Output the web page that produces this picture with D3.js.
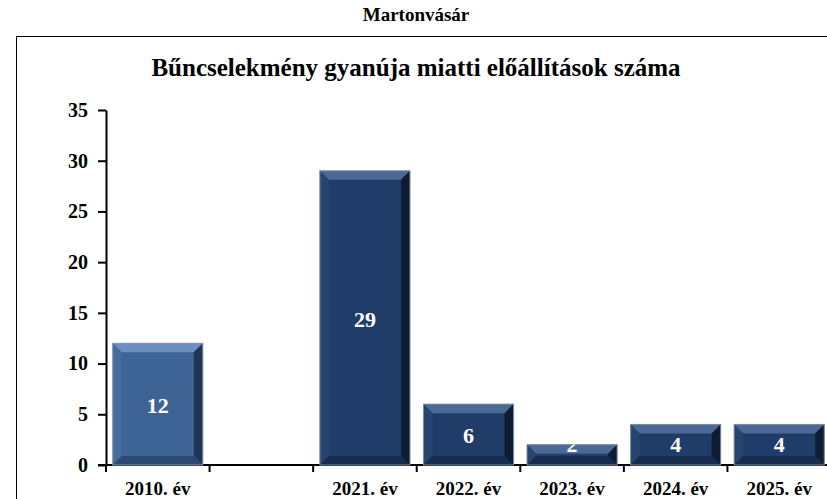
<!DOCTYPE html>
<html>
<head>
<meta charset="utf-8">
<script src="https://cdn.jsdelivr.net/npm/d3@7"></script>
<style>
  body { margin: 0; background: #fff; }
  svg { display: block; font-family: "Liberation Serif", "Times New Roman", serif; font-weight: bold; }
</style>
</head>
<body>
<script>
var PLACE = "Martonvásár";
var TITLE = "Bűncselekmény gyanúja miatti előállítások száma";
var CATEGORIES = ["2010. év", "", "2021. év", "2022. év", "2023. év", "2024. év", "2025. év"];
var VALUES = [12, null, 29, 6, 2, 4, 4];
var Y_TICKS = [0, 5, 10, 15, 20, 25, 30, 35];

var W = 827, H = 499;
var plot = { left: 106, right: 831, top: 110, bottom: 465 };

var svg = d3.select("body").append("svg").attr("width", W).attr("height", H);

// frame + titles
svg.append("rect")
  .attr("x", 16.5).attr("y", 36.5)
  .attr("width", 900).attr("height", 600)
  .attr("fill", "none").attr("stroke", "black").attr("stroke-width", 1);

svg.append("text")
  .attr("x", 416).attr("y", 21)
  .attr("text-anchor", "middle")
  .style("font-size", "19px")
  .text(PLACE);

svg.append("text")
  .attr("x", 416).attr("y", 76)
  .attr("text-anchor", "middle")
  .style("font-size", "25px")
  .text(TITLE);

var x = d3.scaleBand()
  .domain(CATEGORIES)
  .range([plot.left, plot.right])
  .paddingInner(0.13)
  .paddingOuter(0.065);

var y = d3.scaleLinear()
  .domain([0, 35])
  .range([plot.bottom, plot.top]);

// y axis
var yAxis = svg.append("g")
  .attr("transform", "translate(" + plot.left + ",0)")
  .call(d3.axisLeft(y).tickValues(Y_TICKS).tickSize(8).tickSizeOuter(0).tickPadding(10));
yAxis.attr("font-family", null).attr("font-size", null);
yAxis.select(".domain").attr("stroke-width", 2);
yAxis.selectAll(".tick line").attr("stroke-width", 2);
yAxis.selectAll("text")
  .style("font-size", "20px")
  .attr("fill", "black");

// x axis: line + ticks at category boundaries
var step = x.step();
var xg = svg.append("g");
xg.append("line")
  .attr("x1", plot.left - 8).attr("x2", W)
  .attr("y1", plot.bottom).attr("y2", plot.bottom)
  .attr("stroke", "black").attr("stroke-width", 2);
xg.selectAll("line.tk")
  .data(CATEGORIES)
  .enter().append("line")
  .attr("class", "tk")
  .attr("x1", (d, i) => plot.left + i * step)
  .attr("x2", (d, i) => plot.left + i * step)
  .attr("y1", plot.bottom).attr("y2", plot.bottom + 7)
  .attr("stroke", "black").attr("stroke-width", 2);
xg.selectAll("text")
  .data(CATEGORIES)
  .enter().append("text")
  .attr("x", d => x(d) + x.bandwidth() / 2)
  .attr("y", 495)
  .attr("text-anchor", "middle")
  .style("font-size", "19px")
  .text(d => d);

// bevelled bars
var defs = svg.append("defs");
var palette = [
  { face: "#3e6495", top: "#6a8fc0", left: "#466c9e", right: "#1e3556", bottom: "#2a4a74", edge: "#8897ab" },
  { face: "#1f3d68", top: "#4a6a95", left: "#26456f", right: "#0e1d33", bottom: "#162d4e", edge: "#7f8da0" }
];

var bars = svg.append("g");
CATEGORIES.forEach(function(c, i) {
  var v = VALUES[i];
  if (v == null) return;
  var col = i === 0 ? palette[0] : palette[1];
  var x0 = x(c), x1 = x0 + x.bandwidth();
  var y0 = y(v), y1 = y(0);
  var b = Math.min(9, (y1 - y0) / 2);
  var g = bars.append("g");

  g.append("rect")
    .attr("x", x0).attr("y", y0)
    .attr("width", x1 - x0).attr("height", y1 - y0)
    .attr("fill", col.face);

  var poly = function(pts, fill) {
    g.append("polygon")
      .attr("points", pts.map(p => p.join(",")).join(" "))
      .attr("fill", fill);
  };
  poly([[x0, y0], [x1, y0], [x1 - b, y0 + b], [x0 + b, y0 + b]], col.top);
  poly([[x0, y0], [x0 + b, y0 + b], [x0 + b, y1 - b], [x0, y1]], col.left);
  poly([[x1, y0], [x1, y1], [x1 - b, y1 - b], [x1 - b, y0 + b]], col.right);
  poly([[x0, y1], [x0 + b, y1 - b], [x1 - b, y1 - b], [x1, y1]], col.bottom);

  g.append("rect")
    .attr("x", x0).attr("y", y0)
    .attr("width", x1 - x0).attr("height", y1 - y0)
    .attr("fill", "none").attr("stroke", col.edge).attr("stroke-width", 1);

  var clipId = "clip" + i;
  defs.append("clipPath").attr("id", clipId)
    .append("rect")
    .attr("x", x0).attr("y", y0)
    .attr("width", x1 - x0).attr("height", y1 - y0);

  // label centred in the bar, but never lower than ~20px above the axis
  var cy = Math.min((y0 + y1) / 2 + 1, y1 - 20.5);
  g.append("text")
    .attr("clip-path", "url(#" + clipId + ")")
    .attr("x", (x0 + x1) / 2)
    .attr("y", cy)
    .attr("dy", "0.35em")
    .attr("text-anchor", "middle")
    .attr("fill", "white")
    .style("font-size", "22px")
    .text(v);
});
</script>
</body>
</html>
